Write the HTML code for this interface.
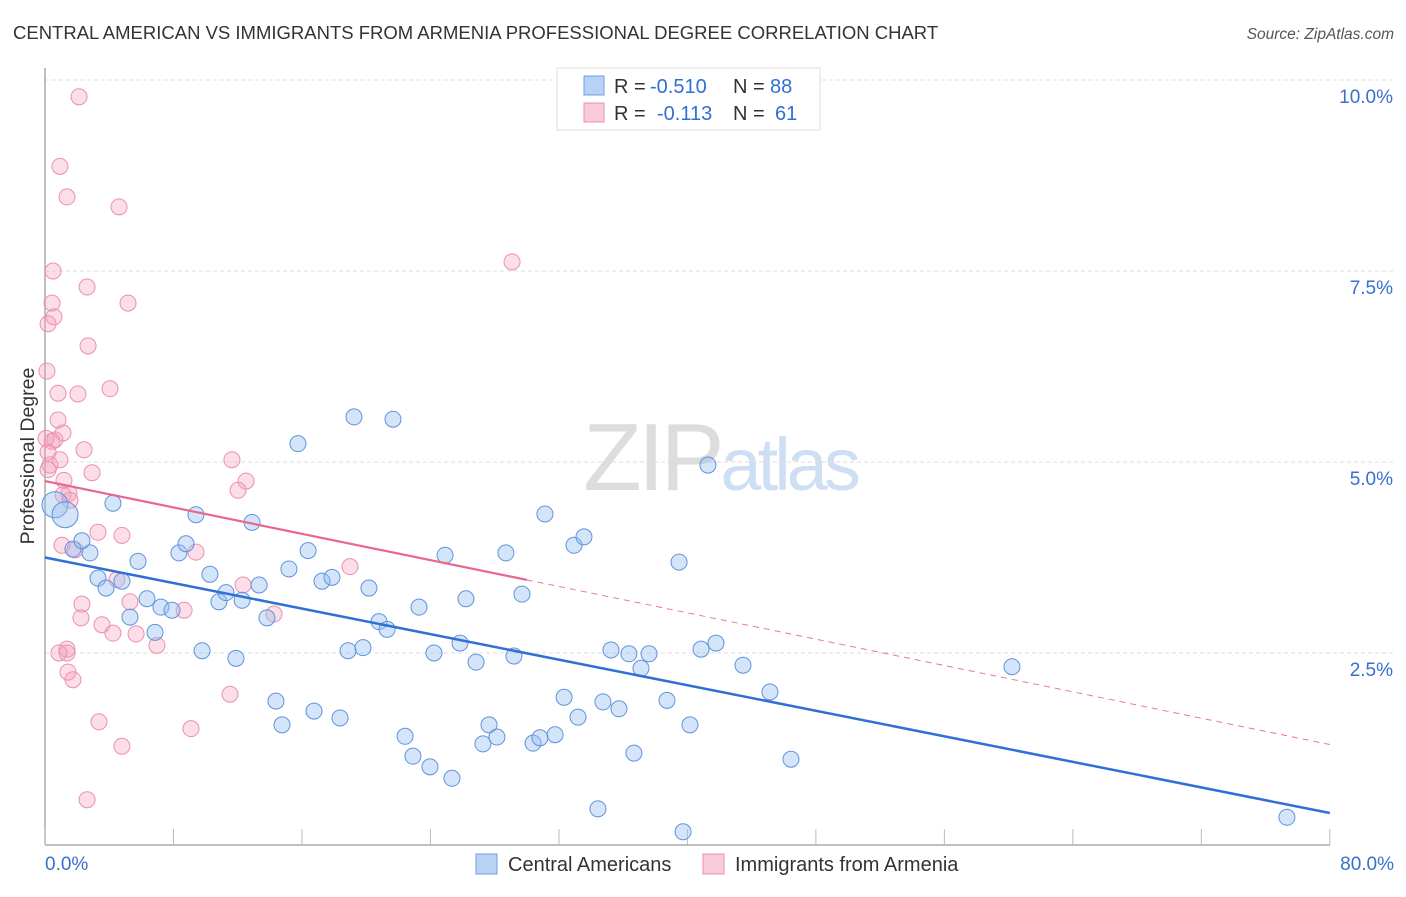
<!DOCTYPE html>
<html><head><meta charset="utf-8">
<style>
body{margin:0;background:#fff;font-family:"Liberation Sans",sans-serif;}
svg text{font-family:"Liberation Sans",sans-serif;}
</style></head>
<body>
<svg id="chart" width="1406" height="892" xmlns="http://www.w3.org/2000/svg">
<text x="13" y="39" font-size="18.5" fill="#333">CENTRAL AMERICAN VS IMMIGRANTS FROM ARMENIA PROFESSIONAL DEGREE CORRELATION CHART</text>
<text x="1394" y="39" font-size="15.5" fill="#555" text-anchor="end" font-style="italic">Source: ZipAtlas.com</text>
<text x="720" y="490" font-size="96" text-anchor="middle" fill="#ddd" font-family="Liberation Serif" letter-spacing="-4">ZIP<tspan fill="#cfdff3" font-family="Liberation Sans" font-size="74">atlas</tspan></text>
<g id="grid"></g>
<g id="pts"></g>
<g id="lines"></g>
<text transform="translate(34,456) rotate(-90)" font-size="19.5" fill="#333" text-anchor="middle">Professional Degree</text>
<text x="45" y="870" font-size="19" fill="#3a6fcf">0.0%</text>
<text x="1394" y="870" font-size="19" fill="#3a6fcf" text-anchor="end">80.0%</text>
<g>
<rect x="557" y="68" width="263" height="62" fill="#fff" stroke="#ddd"/>
<rect x="584" y="76" width="20" height="19" fill="#b7d2f5" stroke="#6f9de0"/>
<rect x="584" y="103" width="20" height="19" fill="#f9cad8" stroke="#ec90ad"/>
<text x="614" y="93" font-size="20" fill="#333">R =</text>
<text x="650" y="93" font-size="20" fill="#2f6fd6">-0.510</text>
<text x="733" y="93" font-size="20" fill="#333">N =</text>
<text x="770" y="93" font-size="20" fill="#2f6fd6">88</text>
<text x="614" y="120" font-size="20" fill="#333">R =</text>
<text x="657" y="120" font-size="20" fill="#2f6fd6">-0.113</text>
<text x="733" y="120" font-size="20" fill="#333">N =</text>
<text x="775" y="120" font-size="20" fill="#2f6fd6">61</text>
</g>
<g>
<rect x="476" y="854" width="21" height="20" fill="#b7d2f5" stroke="#6f9de0"/>
<text x="508" y="871" font-size="20" fill="#333">Central Americans</text></g>
<g>
<rect x="703" y="854" width="21" height="20" fill="#f9cad8" stroke="#ec90ad"/>
<text x="735" y="871" font-size="20" fill="#333">Immigrants from Armenia</text></g>
</svg>
<script>
const yTicks=[2.5,5.0,7.5,10.0];
const yTickLabels=["2.5%","5.0%","7.5%","10.0%"];
const xTicks=[0,8,16,24,32,40,48,56,64,72,80];
const bluePx=[[55,505],[65,515],[90,553],[73,549],[82,541],[113,503],[98,578],[106,588],[122,581],[138,561],[130,617],[147,599],[155,632],[161,607],[172,610],[179,553],[186,544],[196,515],[202,651],[210,574],[219,602],[226,593],[236,658],[242,600],[252,522],[259,585],[267,618],[276,701],[282,725],[289,569],[298,444],[308,551],[314,711],[322,581],[332,577],[340,718],[348,651],[354,417],[363,648],[369,588],[379,622],[387,629],[393,419],[405,736],[413,756],[419,607],[430,767],[434,653],[445,555],[452,778],[460,643],[466,599],[476,662],[483,744],[489,725],[497,737],[506,553],[514,656],[522,594],[533,743],[540,738],[545,514],[555,735],[564,697],[574,545],[578,717],[584,537],[598,809],[603,702],[611,650],[619,709],[629,654],[634,753],[641,668],[649,654],[667,700],[679,562],[683,832],[690,725],[701,649],[708,465],[716,643],[743,665],[770,692],[791,759],[1012,667],[1287,817]];
const pinkPx=[[79,97],[60,166],[67,197],[119,207],[53,271],[87,287],[52,303],[128,303],[54,317],[48,324],[88,346],[47,371],[58,393],[78,394],[110,389],[58,420],[63,433],[52,441],[55,440],[84,450],[48,452],[60,460],[50,465],[92,473],[64,480],[246,481],[232,460],[238,490],[69,493],[63,495],[98,532],[122,535],[62,545],[75,550],[196,552],[350,567],[243,585],[117,580],[82,604],[130,602],[184,610],[274,614],[81,618],[102,625],[113,633],[136,634],[157,645],[67,649],[59,653],[67,653],[68,672],[73,680],[230,694],[99,722],[191,729],[122,746],[87,800],[512,262],[46,438],[48,470],[70,500]];
const blueX=bluePx.map(p=>+((p[0]-45)/16.06).toFixed(2)), blueY=bluePx.map(p=>+((844-p[1])/76.4).toFixed(2));
const pinkX=pinkPx.map(p=>+((p[0]-45)/16.06).toFixed(2)), pinkY=pinkPx.map(p=>+((844-p[1])/76.4).toFixed(2));
const blueTrend=[3.75,-0.0418];
const pinkTrend=[4.75,-0.0431];
const pinkSolidEnd=30;

const X=v=>45+v*16.06, Y=v=>844-v*76.4;
const NS="http://www.w3.org/2000/svg";
function mk(t,a,parent){const e=document.createElementNS(NS,t);for(const k in a)e.setAttribute(k,a[k]);parent.appendChild(e);return e;}
const grid=document.getElementById('grid');
yTicks.forEach((t,i)=>{
 const l=mk('line',{x1:45,x2:1394,y1:Y(t),y2:Y(t),stroke:'#ddd','stroke-dasharray':'4,3'},grid);
 
 
 const tx=mk('text',{x:1393,y:Y(t)+23,'font-size':19,fill:'#3a6fcf','text-anchor':'end'},grid);
 tx.textContent=yTickLabels[i];
 
 
});
const ax=mk('line',{x1:45,x2:1330,y1:845,y2:845,stroke:'#aaa','stroke-width':1.5},grid);


const ay=mk('line',{x1:45,x2:45,y1:68,y2:845,stroke:'#aaa','stroke-width':1.5},grid);


xTicks.forEach(t=>{const l=mk('line',{x1:X(t),x2:X(t),y1:829,y2:845,stroke:'#bbb'},grid);
 
 });
const pts=document.getElementById('pts');
pinkX.forEach((x,i)=>{const c=mk('circle',{cx:X(x),cy:Y(pinkY[i]),r:8,fill:'rgba(244,160,188,0.35)',stroke:'#ec90ad','stroke-width':1},pts);
 
 });
blueX.forEach((x,i)=>{const c=mk('circle',{cx:X(x),cy:Y(blueY[i]),r:(i<2?13:8),fill:'rgba(150,190,240,0.4)',stroke:'#5f93dc','stroke-width':1},pts);
 
 });
const lines=document.getElementById('lines');
const f=(tr,x)=>tr[0]+tr[1]*x;
const bl=mk('line',{x1:X(0),y1:Y(f(blueTrend,0)),x2:X(80),y2:Y(f(blueTrend,80)),stroke:'#2f6fd6','stroke-width':2.5},lines);


const pl=mk('line',{x1:X(0),y1:Y(f(pinkTrend,0)),x2:X(pinkSolidEnd),y2:Y(f(pinkTrend,pinkSolidEnd)),stroke:'#e8678f','stroke-width':2.2},lines);


const pd=mk('line',{x1:X(pinkSolidEnd),y1:Y(f(pinkTrend,pinkSolidEnd)),x2:X(80),y2:Y(f(pinkTrend,80)),stroke:'#e8789c','stroke-width':1,'stroke-dasharray':'6,5'},lines);


</script>
</body></html>
